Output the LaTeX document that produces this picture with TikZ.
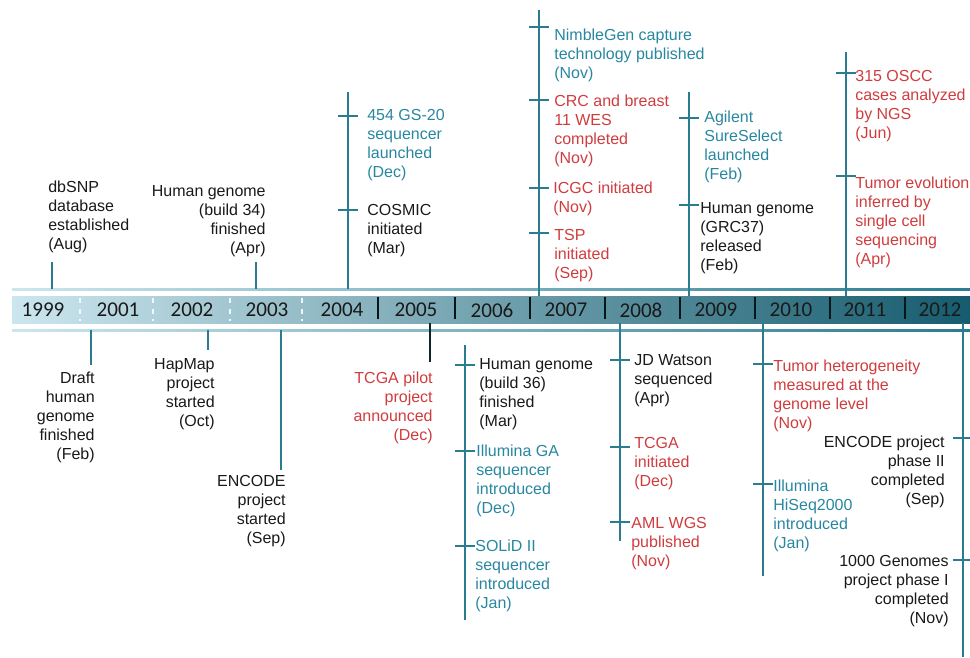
\documentclass[tikz,border=0pt]{standalone}
\usepackage{fontspec}
\setmainfont{Liberation Sans}
\newfontfamily\yearfont{Carlito}
\usetikzlibrary{positioning}
\definecolor{evteal}{RGB}{40,135,160}
\definecolor{evred}{RGB}{208,60,62}
\definecolor{evblack}{RGB}{25,25,25}
\definecolor{stemcol}{RGB}{42,124,144}
\definecolor{bandlight}{RGB}{204,230,238}
\definecolor{bandmid}{RGB}{62,145,165}
\definecolor{banddark}{RGB}{22,92,110}

\begin{document}
\begin{tikzpicture}[x=0.02cm,y=-0.02cm,
    event/.style={inner sep=0pt,font=\fontsize{9.1}{10.8}\selectfont,text=evblack},
    left event/.style={event,anchor=north west,align=left},
    right event/.style={event,anchor=north east,align=right},
    year node/.style={font=\yearfont\fontsize{12}{14}\selectfont,text=evblack},
    stem/.style={draw=stemcol,line width=1.1pt},
    tick/.style={draw=stemcol,line width=0.9pt}]

  \useasboundingbox (0,0) rectangle (970,657);

  % band
  \shade[left color=bandlight,middle color=bandmid,right color=banddark] (12,296) rectangle (970,323);
  \shade[left color=bandlight,right color=stemcol] (12,288) rectangle (970,290);
  \shade[left color=bandlight,right color=stemcol] (12,329) rectangle (970,331);
  \foreach \x in {80,153,230,302}
    \draw[white!70!bandlight,dashed,line width=1pt] (\x,298) -- (\x,321);
  \foreach \x in {378,455,530,605,680,755,830,905}
    \draw[black!75!banddark,line width=1.2pt] (\x,297) -- (\x,319);
  \foreach \yr/\x in {1999/43,2001/118,2002/192,2003/267,2004/342,2005/416,2006/492,
                      2007/566,2008/641,2009/716,2010/791,2011/865,2012/940}
    \node[year node] (y\yr) at (\x,310) {\yr};

  % stems
  \foreach \n/\x/\a/\b in {dbsnp/52/262/289,hgb/256/262/289,g04/348/92/289,
      g07/539/10/296,g09/689/92/296,g11/846/52/296,draft/91/330/365,
      hapmap/208/330/350,encode/281/330/470,g06/465/345/620,
      g08/620/323/541,g10/763/323/576,g12/963/323/657}
  {
    \coordinate (\n top) at (\x,\a);
    \coordinate (\n foot) at (\x,\b);
    \draw[stem] (\n top) -- (\n foot);
  }
  \coordinate (tcgap top) at (430,323);
  \coordinate (tcgap foot) at (430,362);
  \draw[stem,draw=black!70!stemcol] (tcgap top) -- (tcgap foot);

  % ticks
  \foreach \x/\y in {348/116,348/210,539/27,539/100,539/188,539/233,689/118,689/205,
      846/73,846/176,465/365,465/451,465/546,620/360,620/447,620/522,
      763/364,763/484,963/438,963/560}
    \draw[tick] (\x-10,\y) -- (\x+10,\y);

  % above the band
  \node[left event] (dbsnp) at (48,181) {dbSNP\\database\\established\\(Aug)};
  \node[right event] (hgb34) at (266,185) {Human genome\\(build 34)\\finished\\(Apr)};
  \node[left event,text=evteal] (gs20) at (367,109) {454 GS-20\\sequencer\\launched\\(Dec)};
  \node[left event] (cosmic) at (367,204) {COSMIC\\initiated\\(Mar)};
  \node[left event,text=evteal] (nimble) at (554,29) {NimbleGen capture\\technology published\\(Nov)};
  \node[left event,text=evred] (crc) at (554,95) {CRC and breast\\11 WES\\completed\\(Nov)};
  \node[left event,text=evred] (icgc) at (553,182) {ICGC initiated\\(Nov)};
  \node[left event,text=evred] (tsp) at (554,229) {TSP\\initiated\\(Sep)};
  \node[left event,text=evteal] (agilent) at (704,111) {Agilent\\SureSelect\\launched\\(Feb)};
  \node[left event] (grc37) at (700,202) {Human genome\\(GRC37)\\released\\(Feb)};
  \node[left event,text=evred] (oscc) at (855,70) {315 OSCC\\cases analyzed\\by NGS\\(Jun)};
  \node[left event,text=evred] (evol) at (855,177) {Tumor evolution\\inferred by\\single cell\\sequencing\\(Apr)};

  % below the band
  \node[right event] (draft) at (95,372) {Draft\\human\\genome\\finished\\(Feb)};
  \node[right event] (hapmap) at (215,358) {HapMap\\project\\started\\(Oct)};
  \node[right event] (encode) at (286,475) {ENCODE\\project\\started\\(Sep)};
  \node[right event,text=evred] (tcgapilot) at (433,372) {TCGA pilot\\project\\announced\\(Dec)};
  \node[left event] (hgb36) at (479,358) {Human genome\\(build 36)\\finished\\(Mar)};
  \node[left event,text=evteal] (illga) at (476,445) {Illumina GA\\sequencer\\introduced\\(Dec)};
  \node[left event,text=evteal] (solid) at (475,540) {SOLiD II\\sequencer\\introduced\\(Jan)};
  \node[left event] (watson) at (634,354) {JD Watson\\sequenced\\(Apr)};
  \node[left event,text=evred] (tcga) at (634,437) {TCGA\\initiated\\(Dec)};
  \node[left event,text=evred] (aml) at (631,517) {AML WGS\\published\\(Nov)};
  \node[left event,text=evred] (hetero) at (773,360) {Tumor heterogeneity\\measured at the\\genome level\\(Nov)};
  \node[left event,text=evteal] (hiseq) at (773,480) {Illumina\\HiSeq2000\\introduced\\(Jan)};
  \node[right event] (encode2) at (945,436) {ENCODE project\\phase II\\completed\\(Sep)};
  \node[right event] (kgenomes) at (949,555) {1000 Genomes\\project phase I\\completed\\(Nov)};
\end{tikzpicture}
\end{document}
